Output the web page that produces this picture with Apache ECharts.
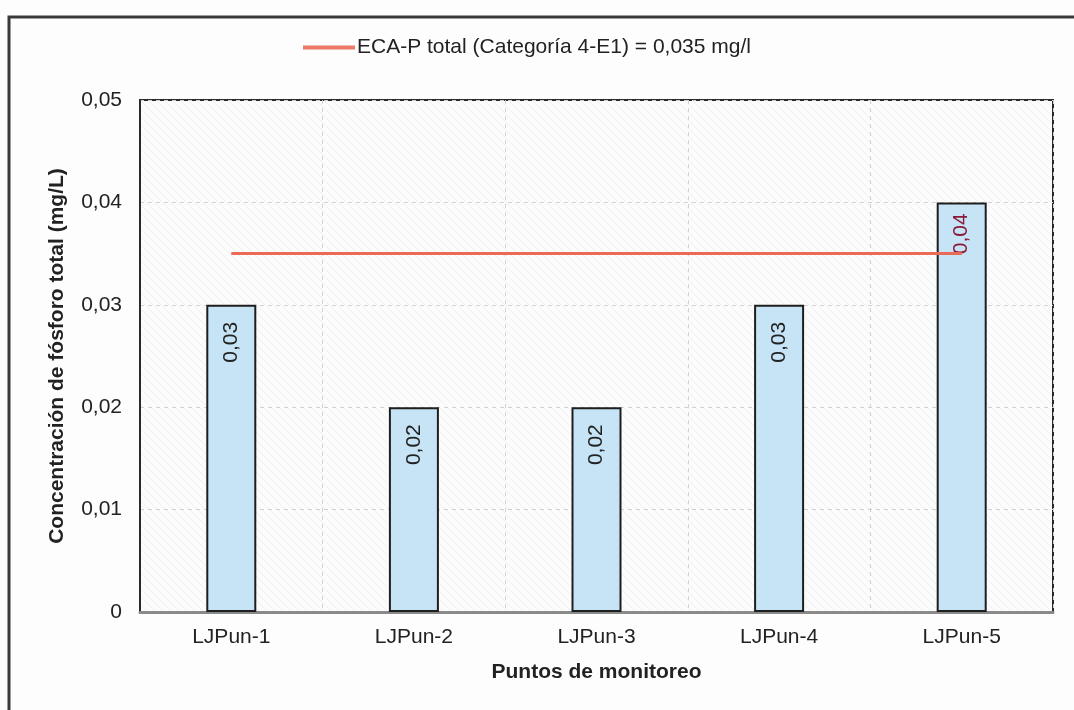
<!DOCTYPE html>
<html>
<head>
<meta charset="utf-8">
<script src="https://cdn.jsdelivr.net/npm/echarts@6/dist/echarts.min.js"></script>
<style>
  html, body { margin: 0; padding: 0; background: #fdfdfd; }
  #chart { width: 1074px; height: 710px; }
</style>
</head>
<body>
<div id="chart"></div>
<script>
// Monitoring points and total phosphorus concentrations (mg/L)
const categories = ['LJPun-1', 'LJPun-2', 'LJPun-3', 'LJPun-4', 'LJPun-5'];
const phosphorus = [0.03, 0.02, 0.02, 0.03, 0.04];
// Environmental quality standard (ECA) for total phosphorus, Category 4-E1
const ecaLimit = [0.035, 0.035, 0.035, 0.035, 0.035];
const yTicks = [0, 0.01, 0.02, 0.03, 0.04, 0.05];

// faint diagonal hatch for the plot background
function hatchPattern() {
  const c = document.createElement('canvas');
  c.width = 8; c.height = 8;
  const g = c.getContext('2d');
  g.fillStyle = '#fcfcfc';
  g.fillRect(0, 0, 8, 8);
  g.strokeStyle = 'rgba(160,160,160,0.2)';
  g.lineWidth = 0.7;
  g.beginPath();
  g.moveTo(0, 0); g.lineTo(8, 8);
  g.moveTo(-4, 4); g.lineTo(4, 12);
  g.moveTo(4, -4); g.lineTo(12, 4);
  g.stroke();
  return c;
}

const fmt = v => v === 0 ? '0' : v.toFixed(2).replace('.', ',');

const chart = echarts.init(document.getElementById('chart'), null, { renderer: 'canvas' });
chart.setOption({
  backgroundColor: '#fdfdfd',
  animation: false,
  textStyle: { fontFamily: 'Liberation Sans, Arial, sans-serif' },
  graphic: [{
    type: 'rect',
    shape: { x: 9, y: 17, width: 1080, height: 700 },
    style: { fill: 'none', stroke: '#3a3a3a', lineWidth: 3 },
    z: -1
  }],
  legend: {
    data: ['ECA-P total (Categoría 4-E1) = 0,035 mg/l'],
    left: 298,
    top: 32,
    itemWidth: 52,
    itemHeight: 4,
    itemGap: 4,
    icon: 'rect',
    textStyle: { fontSize: 21, color: '#222', padding: [0, 0, 0, -3] }
  },
  grid: {
    left: 140, right: 21, top: 100, bottom: 98,
    show: true,
    backgroundColor: { image: hatchPattern(), repeat: 'repeat' },
    borderColor: '#2a2a2a',
    borderWidth: 2
  },
  xAxis: {
    type: 'category',
    data: categories,
    name: 'Puntos de monitoreo',
    nameLocation: 'middle',
    nameGap: 50,
    nameTextStyle: { fontSize: 21, fontWeight: 'bold', color: '#222' },
    axisLine: { lineStyle: { color: '#8a8a8a', width: 3 } },
    axisTick: { show: false },
    axisLabel: { fontSize: 21, color: '#222', margin: 15 },
    splitLine: { show: true, lineStyle: { color: '#d2d2d2', type: [4, 4], width: 1 } }
  },
  yAxis: {
    type: 'value',
    min: 0, max: 0.05, interval: 0.01,
    name: 'Concentración de fósforo total (mg/L)',
    nameLocation: 'middle',
    nameGap: 72,
    nameTextStyle: { fontSize: 21, fontWeight: 'bold', color: '#222' },
    axisLine: { show: true, lineStyle: { color: '#2a2a2a', width: 2 } },
    axisTick: { show: false },
    axisLabel: {
      fontSize: 21, color: '#222', margin: 18,
      formatter: v => yTicks.includes(+v.toFixed(2)) ? fmt(v) : ''
    },
    splitLine: { lineStyle: { color: '#d2d2d2', type: [4, 4], width: 1 } }
  },
  series: [
    {
      name: 'Fósforo total',
      type: 'bar',
      data: phosphorus.map((v, i) => ({
        value: v,
        label: i === 4 ? { color: '#8a1a3a', offset: [-6, 0] } : {}
      })),
      barWidth: 50,
      itemStyle: { color: '#c6e4f5', borderColor: '#1e1e1e', borderWidth: 2 },
      label: {
        show: true,
        position: 'insideTop',
        rotate: 90,
        align: 'right',
        verticalAlign: 'middle',
        offset: [-12, 0],
        fontSize: 21,
        color: '#222',
        formatter: p => fmt(p.value)
      },
      z: 2
    },
    {
      name: 'ECA-P total (Categoría 4-E1) = 0,035 mg/l',
      type: 'line',
      data: ecaLimit,
      symbol: 'none',
      lineStyle: { color: '#ec6a55', width: 3 },
      itemStyle: { color: '#ec7a68' },
      z: 3
    }
  ]
});
</script>
</body>
</html>
